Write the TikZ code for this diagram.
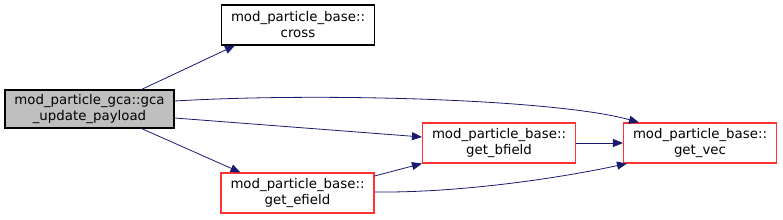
\documentclass[tikz,border=0pt]{standalone}
\usepackage{fontspec}
\setmainfont{DejaVu Sans}
\usetikzlibrary{arrows.meta,calc,positioning}
\definecolor{edgeblue}{HTML}{191970}
\definecolor{truncred}{HTML}{FF3333}
\tikzset{
  fn/.style={draw=truncred, thick, fill=white, align=center, font=\fontsize{10}{12}\selectfont,
    minimum width=114.75pt, minimum height=30pt, inner sep=1pt},
  root/.style={fn, draw=black, fill=black!25, minimum width=126.75pt, minimum height=28.5pt},
  plain/.style={fn, draw=black},
  call/.style={-{Triangle[length=7.5pt,width=6pt]}, edgeblue, semithick}
}

\begin{document}
\begin{tikzpicture}[x=0.75pt,y=-0.75pt]
  \useasboundingbox (0,0) rectangle (783,220);

  \node[root] (gca) at (89.5,109) {mod\_particle\_gca::gca\\\_update\_payload};
  \node[plain] (cross) at (298,25) {mod\_particle\_base::\\cross};
  \node[fn] (bfield) at (499,143) {mod\_particle\_base::\\get\_bfield};
  \node[fn] (efield) at (297.5,193) {mod\_particle\_base::\\get\_efield};
  \node[fn] (vec) at (700,143) {mod\_particle\_base::\\get\_vec};

  \draw[call] ($(gca.north east)+(-33,0)$) -- ($(cross.south west)+(14,0)$);
  \draw[call] ($(gca.east)+(0,-8)$)
    .. controls (330,92) and (560,100) .. ($(vec.north west)+(16,0)$);
  \draw[call] ($(gca.east)+(0,9)$) -- ($(bfield.west)+(0,-6)$);
  \draw[call] ($(gca.south east)+(-33,0)$) -- ($(efield.north west)+(20,0)$);
  \draw[call] ($(efield.east)+(0,-17)$) -- ($(bfield.south west)+(0,0)$);
  \draw[call] ($(efield.east)+(0,-1)$)
    .. controls (460,193) and (560,178) .. ($(vec.south west)+(4,0)$);
  \draw[call] (bfield) -- (vec);
\end{tikzpicture}
\end{document}
